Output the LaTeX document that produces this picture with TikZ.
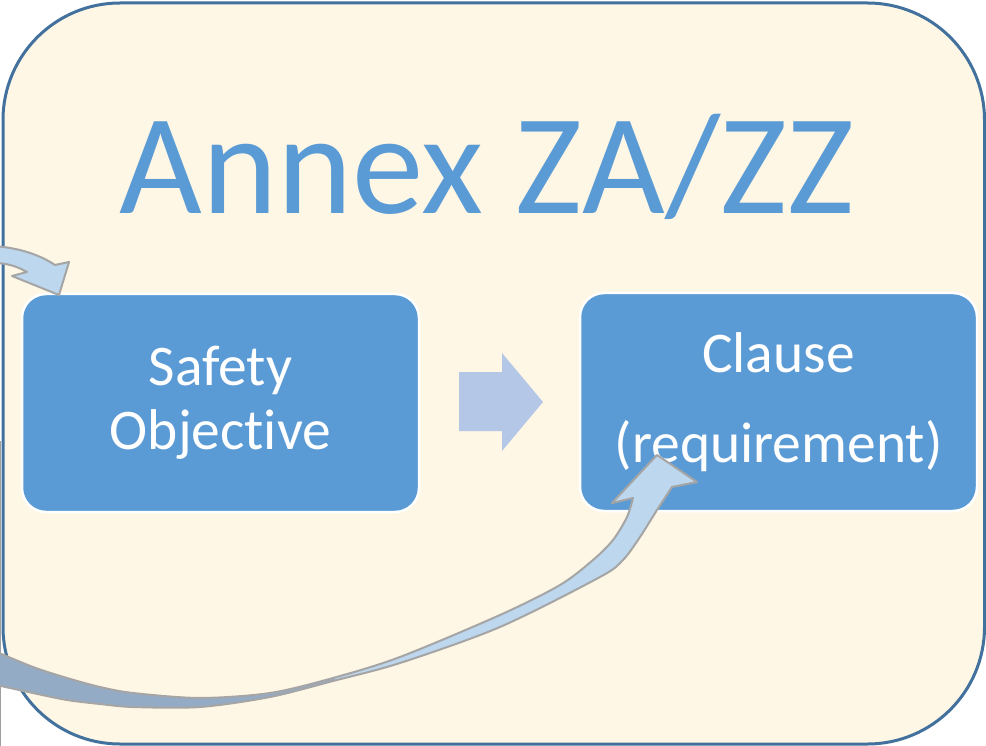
\documentclass[tikz,border=0pt]{standalone}
\usepackage{fontspec}
\setmainfont{Carlito}[Ligatures=NoCommon]
\definecolor{cream}{HTML}{FFF7E5}
\definecolor{frameblue}{HTML}{41719C}
\definecolor{boxblue}{HTML}{5B9BD5}
\definecolor{arrowlight}{HTML}{BDD7EE}
\definecolor{arrowdark}{HTML}{94ABC5}
\definecolor{arrowedge}{HTML}{A5A5A5}
\definecolor{midarrow}{HTML}{B4C7E7}
\tikzset{
  frame/.style={draw=frameblue, line width=3pt, fill=cream, rounded corners=117pt,
    minimum width=981.5pt, minimum height=741pt, inner sep=0pt},
  titletext/.style={text=boxblue, font=\fontsize{143}{150}\selectfont, inner sep=0pt, anchor=base},
  stepbox/.style={draw=white, line width=2.5pt, fill=boxblue, rounded corners=24pt,
    minimum width=397pt, minimum height=218pt, text=white, align=center, inner sep=0pt,
    font=\fontsize{57.5}{64}\selectfont},
  curvarrow/.style={fill=arrowlight, draw=arrowedge, line width=2pt, line join=round},
  blockarrow/.style={fill=midarrow, draw=none}
}
\begin{document}
\begin{tikzpicture}[x=1pt,y=-1pt]
\useasboundingbox (0,0) rectangle (986,746);
\clip (0,0) rectangle (986,746);
\fill[white] (0,0) rectangle (986,746);
% outer frame
\node[frame] (frame) at (493.75,373.5) {};
% stray edge of a neighbouring shape
\draw[gray!75, line width=1.5pt] (0.7,441) -- (0.7,746);
% title
\node[titletext] (title) at (487,214) {Annex ZA/ZZ};
% boxes
\node[stepbox] (so) at (220.5,403) {Safety\\Objective};
\node[stepbox] (cl) at (778.5,402) {Clause\\[26pt](requirement)};
% middle block arrow
\path[blockarrow] (459,372) -- (502,372) -- (502,353) -- (543,402) -- (502,451) -- (502,431) -- (459,431) -- cycle;
% top-left incoming curved arrow
\path[curvarrow] (-6,246) .. controls (20,248) and (40,255) .. (55,265) -- (69,262) -- (59,295) -- (12,276) -- (27,272) .. controls (18,267) and (8,263) .. (-6,263) -- cycle;
% bottom curved ribbon arrow: light fill
\fill[arrowlight] plot[smooth] coordinates {(-8,650) (33,667) (67,678) (100,687) (133,693) (200,698) (270,693) (333,678) (400,657) (500,615) (560,585) (593,560) (613,540) (627,517) (633,498)}
  -- (612,503) -- (657,455) -- (697,482) -- (672,487)
  -- plot[smooth] coordinates {(672,487) (657,510) (640,537) (623,560) (600,577) (500,627) (400,663) (333,681) (270,697) (200,707) (133,707) (100,704) (67,700) (33,693) (-8,684)} -- cycle;
% dark back face of the ribbon
\begin{scope}
  \clip (-10,600) rectangle (335,746);
  \fill[arrowdark] plot[smooth] coordinates {(-8,650) (33,667) (67,678) (100,687) (133,693) (200,698) (270,693) (333,678) (400,657) (500,615) (560,585) (593,560) (613,540) (627,517) (633,498)}
  -- (612,503) -- (657,455) -- (697,482) -- (672,487)
  -- plot[smooth] coordinates {(672,487) (657,510) (640,537) (623,560) (600,577) (500,627) (400,663) (333,681) (270,697) (200,707) (133,707) (100,704) (67,700) (33,693) (-8,684)} -- cycle;
\end{scope}
% outline
\draw[draw=arrowedge, line width=2pt, line join=round] plot[smooth] coordinates {(-8,650) (33,667) (67,678) (100,687) (133,693) (200,698) (270,693) (333,678) (400,657) (500,615) (560,585) (593,560) (613,540) (627,517) (633,498)}
  -- (612,503) -- (657,455) -- (697,482) -- (672,487)
  -- plot[smooth] coordinates {(672,487) (657,510) (640,537) (623,560) (600,577) (500,627) (400,663) (333,681) (270,697) (200,707) (133,707) (100,704) (67,700) (33,693) (-8,684)} -- cycle;
\end{tikzpicture}
\end{document}
